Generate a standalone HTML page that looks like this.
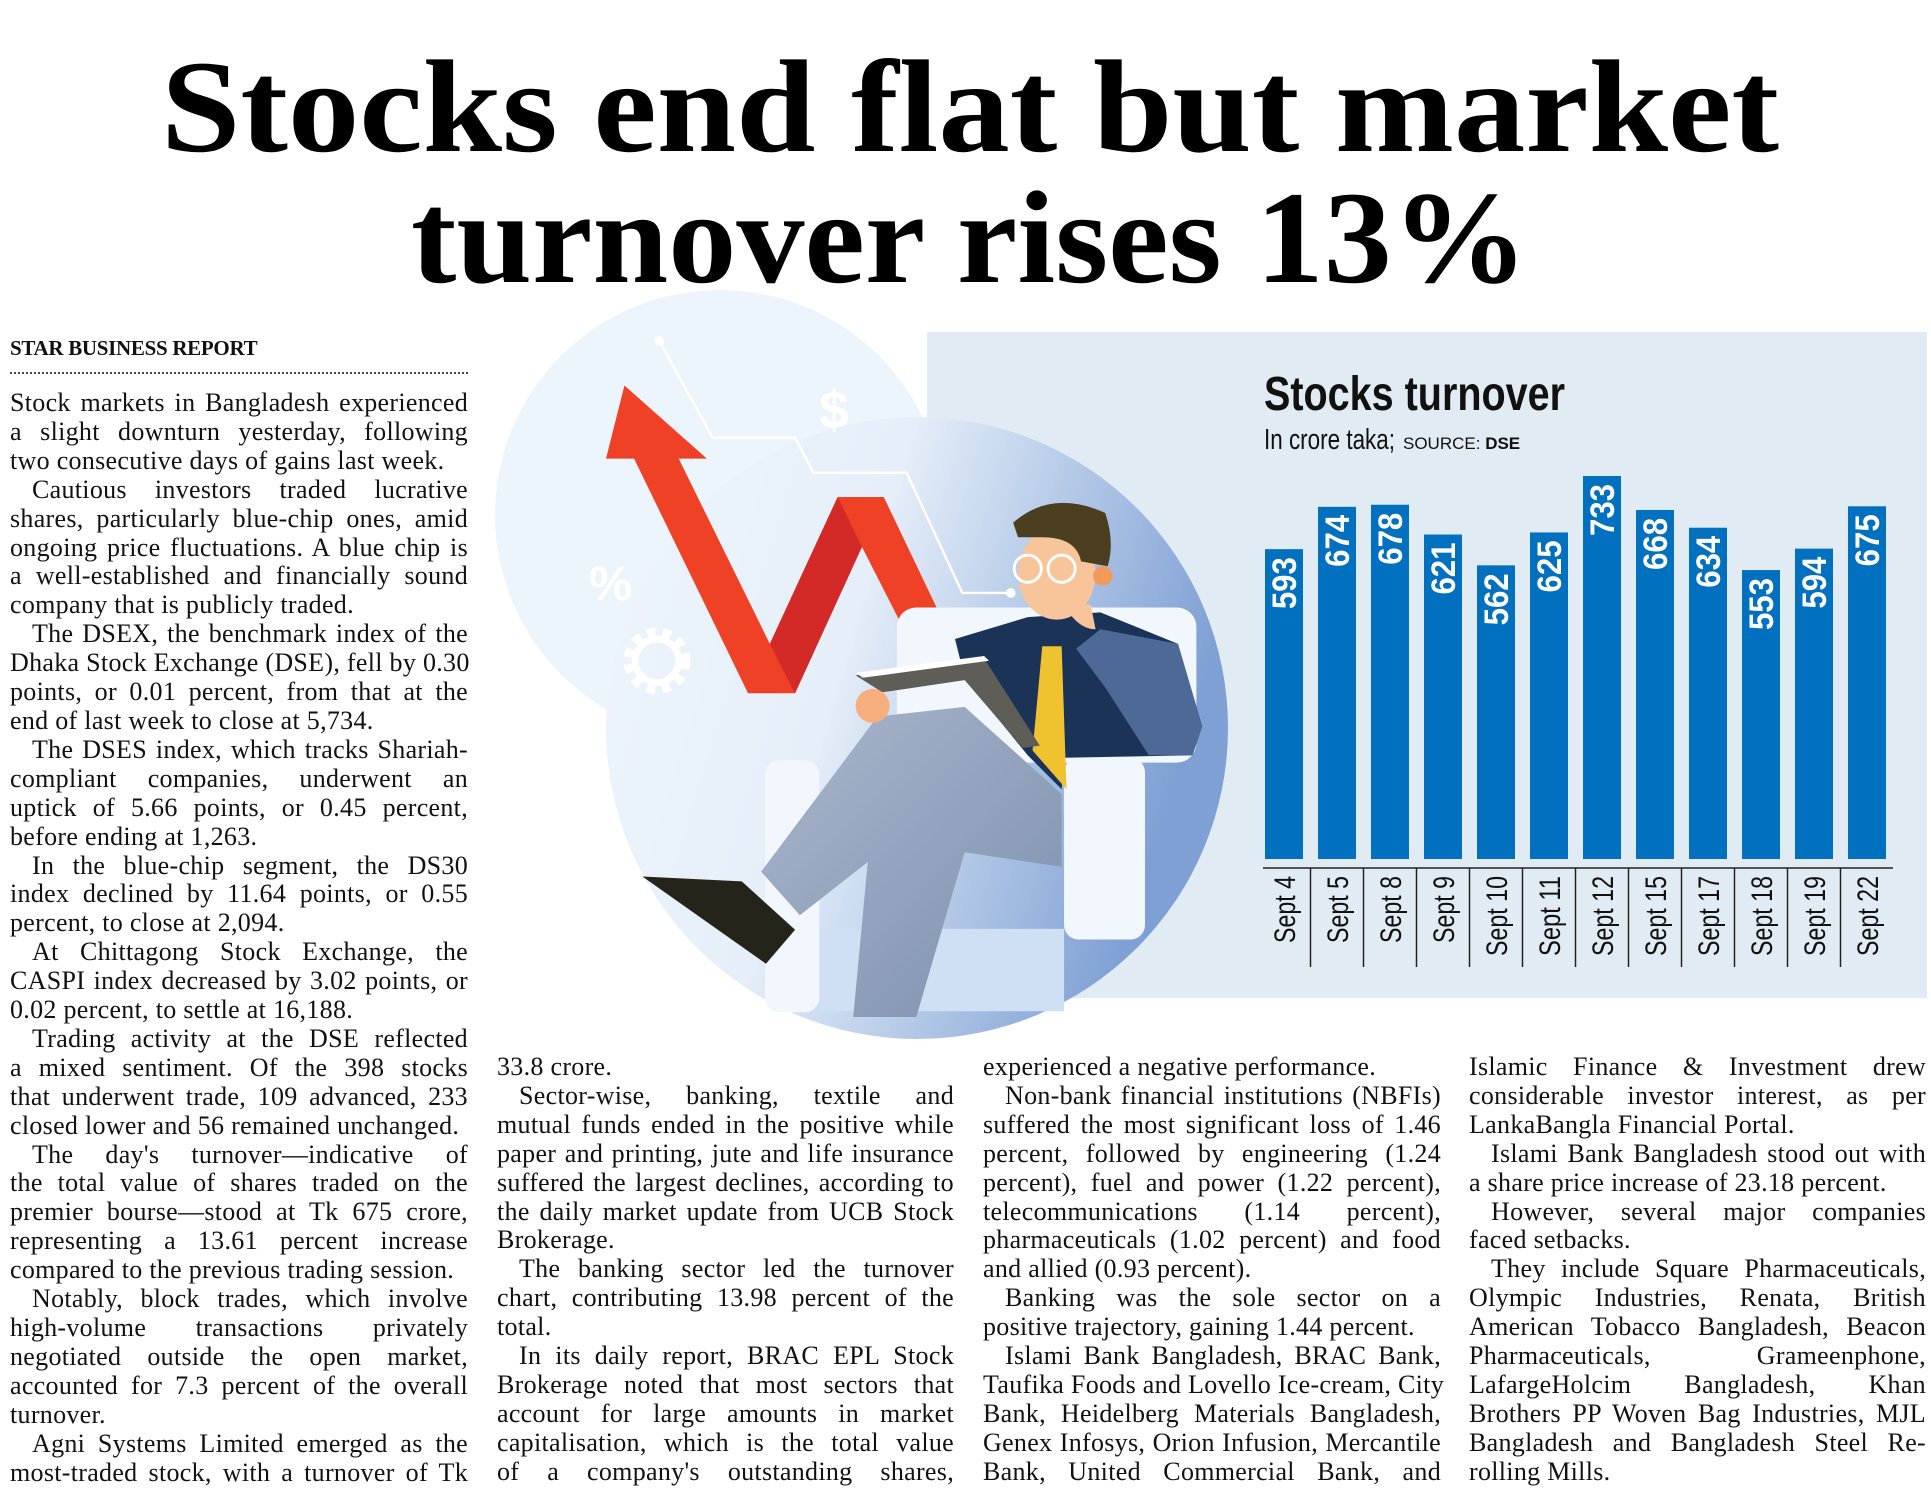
<!DOCTYPE html>
<html><head><meta charset="utf-8">
<style>
html,body{margin:0;padding:0;background:#fff;}
body{width:1931px;height:1502px;position:relative;overflow:hidden;font-family:"Liberation Serif",serif;color:#111;}
svg{position:absolute;left:0;top:0;}
.col{position:absolute;font-size:26px;line-height:28.9px;letter-spacing:0.3px;}
.col div{white-space:nowrap;text-align:justify;text-align-last:justify;}
.col div.e{text-align-last:left;}
.col div.i{text-indent:22px;}
</style></head><body>
<svg width="1931" height="1502" viewBox="0 0 1931 1502">
<defs>
<linearGradient id="bg1" x1="0" y1="0" x2="1" y2="0.3">
<stop offset="0" stop-color="#eef5fc"/><stop offset="0.45" stop-color="#e6eff9"/><stop offset="1" stop-color="#7fa0d4"/>
</linearGradient>
<linearGradient id="leg" x1="0" y1="0" x2="1" y2="1"><stop offset="0" stop-color="#a9b6cc"/><stop offset="1" stop-color="#7e90ae"/></linearGradient>
</defs>
<text x="161" y="151" font-family="Liberation Serif" font-weight="bold" font-size="132" textLength="1618" lengthAdjust="spacingAndGlyphs">Stocks end flat but market</text>
<text x="411" y="282" font-family="Liberation Serif" font-weight="bold" font-size="132" textLength="1117" lengthAdjust="spacingAndGlyphs">turnover rises 13%</text>
<rect x="927" y="332" width="1000" height="666" fill="#e1ebf3"/>
<circle cx="720" cy="515" r="225" fill="#edf5fc"/>
<circle cx="917" cy="728" r="311" fill="url(#bg1)"/>
<g transform="translate(480,290) scale(0.4847)">
<polyline points="370,105 480,305 650,305 688,377 880,377 995,625 1095,625" fill="none" stroke="#fff" stroke-width="5"/>
<circle cx="370" cy="105" r="10" fill="#fff"/><circle cx="1095" cy="625" r="10" fill="#fff"/>
<text x="700" y="285" font-family="Liberation Sans" font-weight="bold" font-size="110" fill="#fff">$</text>
<text x="225" y="640" font-family="Liberation Sans" font-weight="bold" font-size="100" fill="#fff">%</text>
<circle cx="365" cy="765" r="55" fill="none" stroke="#fff" stroke-width="28" stroke-dasharray="16 14"/>
<circle cx="365" cy="765" r="45" fill="none" stroke="#fff" stroke-width="14"/>
<polygon points="298,197 468,348 410,348 598,730 738,427 833,427 985,745 900,750 788,530 650,832 553,832 318,348 260,348" fill="#ee4125"/>
<polygon points="598,730 738,427 788,530 650,832" fill="#d32927"/>
<rect x="860" y="655" width="618" height="320" rx="40" fill="#f2f7fd"/>
<rect x="700" y="1318" width="505" height="170" fill="#cfe0f4"/>
<rect x="588" y="970" width="112" height="520" rx="30" fill="#f2f7fd"/>
<rect x="1205" y="965" width="167" height="375" rx="30" fill="#f2f7fd"/>
<polygon points="980,720 1130,675 1280,665 1440,730 1490,900 1470,960 1205,965 1200,1030 1130,960 1000,800" fill="#1c3358"/>
<polygon points="1280,700 1440,730 1490,900 1470,960 1380,960 1290,820 1230,740" fill="#4d6a96"/>
<polygon points="1160,735 1200,735 1210,1030 1140,950" fill="#efc22f"/>
<polygon points="580,1200 820,880 1000,860 1200,1040 1200,1190 1000,1160 900,1500 770,1500 800,1180 660,1290" fill="url(#leg)"/>
<polygon points="335,1210 540,1220 650,1320 590,1390" fill="#25241a"/>
<polygon points="775,795 1040,760 1155,940 1120,945 1000,805 830,830" fill="#5f5d58"/>
<polygon points="775,790 1040,755 1050,765 790,800" fill="#fff"/>
<circle cx="810" cy="858" r="35" fill="#f6ae7c"/>
<ellipse cx="1190" cy="585" rx="80" ry="95" fill="#f8c49a"/>
<path d="M1100,480 Q1180,410 1290,460 Q1310,520 1295,570 L1240,560 Q1230,510 1160,510 L1110,510 Z" fill="#4c3f1f"/>
<circle cx="1130" cy="575" r="28" fill="none" stroke="#fff" stroke-width="6"/>
<circle cx="1200" cy="575" r="28" fill="none" stroke="#fff" stroke-width="6"/>
<circle cx="1285" cy="590" r="20" fill="#f29a5c"/>
<path d="M1200,640 Q1230,700 1270,700 L1260,650 Z" fill="#f8c49a"/>
</g>
<text x="1264" y="410" font-family="Liberation Sans Narrow, Liberation Sans" font-weight="bold" font-size="48" textLength="301" lengthAdjust="spacingAndGlyphs" fill="#111">Stocks turnover</text>
<text x="1264" y="449" font-family="Liberation Sans Narrow, Liberation Sans" font-size="29" textLength="131" lengthAdjust="spacingAndGlyphs" fill="#111">In crore taka;</text>
<text x="1403" y="449" font-family="Liberation Sans" font-size="17" fill="#111">SOURCE: <tspan font-weight="bold">DSE</tspan></text>
<g id="bars" fill="#0170bf"></g>
<line x1="1263" y1="868" x2="1893" y2="868" stroke="#222" stroke-width="1.5"/>
<g id="ticks" stroke="#222" stroke-width="1.5"></g>
<g id="lbl"></g>
</svg>
<script>
(function(){
var v=[593,674,678,621,562,625,733,668,634,553,594,675];
var d=["Sept 4","Sept 5","Sept 8","Sept 9","Sept 10","Sept 11","Sept 12","Sept 15","Sept 17","Sept 18","Sept 19","Sept 22"];
var ns="http://www.w3.org/2000/svg";
var bars=document.getElementById("bars"),ticks=document.getElementById("ticks"),lbl=document.getElementById("lbl");
for(var i=0;i<12;i++){
var x=1265+i*53.0, t=859-v[i]*0.5225;
var r=document.createElementNS(ns,"rect");r.setAttribute("x",x);r.setAttribute("y",t);r.setAttribute("width",38);r.setAttribute("height",859-t);bars.appendChild(r);
var cx=x+19;
var tx=document.createElementNS(ns,"text");tx.setAttribute("transform","translate("+(cx+12)+","+(t+8)+") rotate(-90)");
tx.setAttribute("text-anchor","end");tx.setAttribute("font-family","Liberation Sans Narrow, Liberation Sans");tx.setAttribute("font-weight","bold");tx.setAttribute("font-size","34");tx.setAttribute("fill","#fff");tx.setAttribute("textLength","52");tx.setAttribute("lengthAdjust","spacingAndGlyphs");tx.textContent=v[i];lbl.appendChild(tx);
var dl=document.createElementNS(ns,"text");dl.setAttribute("transform","translate("+(cx+11)+",876) rotate(-90)");
dl.setAttribute("text-anchor","end");dl.setAttribute("font-family","Liberation Sans Narrow, Liberation Sans");dl.setAttribute("font-size","30");dl.setAttribute("fill","#111");dl.setAttribute("textLength",d[i].length>6?"80":"67");dl.setAttribute("lengthAdjust","spacingAndGlyphs");dl.textContent=d[i];lbl.appendChild(dl);
if(i>0){var l=document.createElementNS(ns,"line");var lx=x-7.5;l.setAttribute("x1",lx);l.setAttribute("x2",lx);l.setAttribute("y1",868);l.setAttribute("y2",967);ticks.appendChild(l);}
}
})();
</script>
<div style="position:absolute;left:10px;top:336px;font-weight:bold;font-size:21px;letter-spacing:-0.3px;">STAR BUSINESS REPORT</div>
<div style="position:absolute;left:10px;top:372px;width:458px;border-top:2px dotted #444;"></div>
<div class="col" style="left:10px;top:389px;width:458px;">
<div>Stock markets in Bangladesh experienced</div>
<div>a slight downturn yesterday, following</div>
<div class="e">two consecutive days of gains last week.</div>
<div class="i">Cautious investors traded lucrative</div>
<div>shares, particularly blue-chip ones, amid</div>
<div>ongoing price fluctuations. A blue chip is</div>
<div>a well-established and financially sound</div>
<div class="e">company that is publicly traded.</div>
<div class="i">The DSEX, the benchmark index of the</div>
<div>Dhaka Stock Exchange (DSE), fell by 0.30</div>
<div>points, or 0.01 percent, from that at the</div>
<div class="e">end of last week to close at 5,734.</div>
<div class="i">The DSES index, which tracks Shariah-</div>
<div>compliant companies, underwent an</div>
<div>uptick of 5.66 points, or 0.45 percent,</div>
<div class="e">before ending at 1,263.</div>
<div class="i">In the blue-chip segment, the DS30</div>
<div>index declined by 11.64 points, or 0.55</div>
<div class="e">percent, to close at 2,094.</div>
<div class="i">At Chittagong Stock Exchange, the</div>
<div>CASPI index decreased by 3.02 points, or</div>
<div class="e">0.02 percent, to settle at 16,188.</div>
<div class="i">Trading activity at the DSE reflected</div>
<div>a mixed sentiment. Of the 398 stocks</div>
<div>that underwent trade, 109 advanced, 233</div>
<div class="e">closed lower and 56 remained unchanged.</div>
<div class="i">The day's turnover—indicative of</div>
<div>the total value of shares traded on the</div>
<div>premier bourse—stood at Tk 675 crore,</div>
<div>representing a 13.61 percent increase</div>
<div class="e">compared to the previous trading session.</div>
<div class="i">Notably, block trades, which involve</div>
<div>high-volume transactions privately</div>
<div>negotiated outside the open market,</div>
<div>accounted for 7.3 percent of the overall</div>
<div class="e">turnover.</div>
<div class="i">Agni Systems Limited emerged as the</div>
<div>most-traded stock, with a turnover of Tk</div>
</div>
<div class="col" style="left:497px;top:1053px;width:457px;">
<div class="e">33.8 crore.</div>
<div class="i">Sector-wise, banking, textile and</div>
<div>mutual funds ended in the positive while</div>
<div>paper and printing, jute and life insurance</div>
<div>suffered the largest declines, according to</div>
<div>the daily market update from UCB Stock</div>
<div class="e">Brokerage.</div>
<div class="i">The banking sector led the turnover</div>
<div>chart, contributing 13.98 percent of the</div>
<div class="e">total.</div>
<div class="i">In its daily report, BRAC EPL Stock</div>
<div>Brokerage noted that most sectors that</div>
<div>account for large amounts in market</div>
<div>capitalisation, which is the total value</div>
<div>of a company's outstanding shares,</div>
</div>
<div class="col" style="left:983px;top:1053px;width:458px;">
<div class="e">experienced a negative performance.</div>
<div class="i">Non-bank financial institutions (NBFIs)</div>
<div>suffered the most significant loss of 1.46</div>
<div>percent, followed by engineering (1.24</div>
<div>percent), fuel and power (1.22 percent),</div>
<div>telecommunications (1.14 percent),</div>
<div>pharmaceuticals (1.02 percent) and food</div>
<div class="e">and allied (0.93 percent).</div>
<div class="i">Banking was the sole sector on a</div>
<div class="e">positive trajectory, gaining 1.44 percent.</div>
<div class="i">Islami Bank Bangladesh, BRAC Bank,</div>
<div>Taufika Foods and Lovello Ice-cream, City</div>
<div>Bank, Heidelberg Materials Bangladesh,</div>
<div>Genex Infosys, Orion Infusion, Mercantile</div>
<div>Bank, United Commercial Bank, and</div>
</div>
<div class="col" style="left:1469px;top:1053px;width:457px;">
<div>Islamic Finance &amp; Investment drew</div>
<div>considerable investor interest, as per</div>
<div class="e">LankaBangla Financial Portal.</div>
<div class="i">Islami Bank Bangladesh stood out with</div>
<div class="e">a share price increase of 23.18 percent.</div>
<div class="i">However, several major companies</div>
<div class="e">faced setbacks.</div>
<div class="i">They include Square Pharmaceuticals,</div>
<div>Olympic Industries, Renata, British</div>
<div>American Tobacco Bangladesh, Beacon</div>
<div>Pharmaceuticals, Grameenphone,</div>
<div>LafargeHolcim Bangladesh, Khan</div>
<div>Brothers PP Woven Bag Industries, MJL</div>
<div>Bangladesh and Bangladesh Steel Re-</div>
<div class="e">rolling Mills.</div>
</div>
</body></html>
